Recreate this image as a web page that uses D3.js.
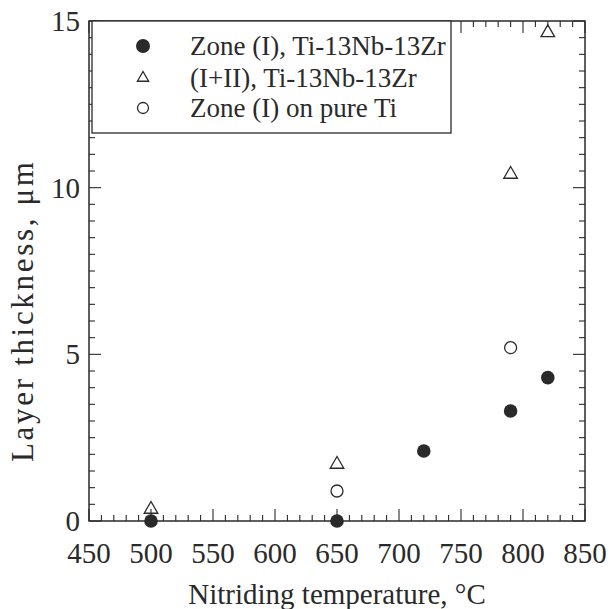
<!DOCTYPE html>
<html>
<head>
<meta charset="utf-8">
<script src="https://cdn.jsdelivr.net/npm/d3@7"></script>
<style>
  body { margin: 0; background: #fff; }
</style>
</head>
<body>
<svg id="chart" width="610" height="609"></svg>
<script>
// Zone (I), Ti-13Nb-13Zr  (filled circles)
const zoneTemps = [500, 650, 720, 790, 820];
const zoneVals = [0, 0, 2.1, 3.3, 4.3];
// (I+II), Ti-13Nb-13Zr  (open triangles)
const bothTemps = [500, 650, 790, 820];
const bothVals = [0.35, 1.7, 10.4, 14.65];
// Zone (I) on pure Ti  (open circles)
const tiTemps = [650, 790];
const tiVals = [0.9, 5.2];

const xTicks = [450, 500, 550, 600, 650, 700, 750, 800, 850];
const yTicks = [0, 5, 10, 15];
const legendLabels = ["Zone (I), Ti-13Nb-13Zr", "(I+II), Ti-13Nb-13Zr", "Zone (I) on pure Ti"];

const ink = "#2a2a2a";
const serif = "'Liberation Serif', 'Times New Roman', 'DejaVu Serif', serif";
const chart = d3.select("#chart");
const margin = {left: 89, right: 25, top: 21, bottom: 88};
const W = 610, H = 609;

const x = d3.scaleLinear().domain([450, 850]).range([margin.left, W - margin.right]);
const y = d3.scaleLinear().domain([0, 15]).range([H - margin.bottom, margin.top]);

const xMinor = d3.range(450, 851, 10);
const yMinor = d3.range(0, 15.01, 0.5);

// inward ticks on all four sides
const tickG = chart.append("g").attr("stroke", ink).attr("stroke-width", 1.1);
const isMajorX = v => v % 50 === 0;
const isMajorY = v => v % 5 === 0;
xMinor.forEach(v => {
  const len = isMajorX(v) ? 12 : 6;
  tickG.append("line").attr("x1", x(v)).attr("x2", x(v))
    .attr("y1", y(0)).attr("y2", y(0) - len);
  tickG.append("line").attr("x1", x(v)).attr("x2", x(v))
    .attr("y1", y(15)).attr("y2", y(15) + len);
});
yMinor.forEach(v => {
  const len = isMajorY(v) ? 12 : 6;
  tickG.append("line").attr("x1", x(450)).attr("x2", x(450) + len)
    .attr("y1", y(v)).attr("y2", y(v));
  tickG.append("line").attr("x1", x(850)).attr("x2", x(850) - len)
    .attr("y1", y(v)).attr("y2", y(v));
});

// frame
chart.append("rect")
  .attr("x", x(450)).attr("y", y(15))
  .attr("width", x(850) - x(450)).attr("height", y(0) - y(15))
  .attr("fill", "none").attr("stroke", ink).attr("stroke-width", 1.5);

// tick labels
chart.append("g").selectAll("text").data(xTicks).enter().append("text")
  .attr("x", d => x(d)).attr("y", y(0) + 42)
  .attr("text-anchor", "middle")
  .attr("font-family", serif).attr("font-size", 29).attr("fill", ink)
  .text(d => d);
chart.append("g").selectAll("text").data(yTicks).enter().append("text")
  .attr("x", x(450) - 9).attr("y", d => y(d) + 10)
  .attr("text-anchor", "end")
  .attr("font-family", serif).attr("font-size", 29).attr("fill", ink)
  .text(d => d);

// axis titles
chart.append("text")
  .attr("x", (x(450) + x(850)) / 2).attr("y", 604)
  .attr("text-anchor", "middle")
  .attr("font-family", serif).attr("font-size", 29).attr("fill", ink)
  .text("Nitriding temperature, \u00B0C");
chart.append("text")
  .attr("transform", "translate(33,312) rotate(-90)")
  .attr("text-anchor", "middle")
  .attr("font-family", serif).attr("font-size", 31).attr("fill", ink)
  .attr("textLength", 300).attr("lengthAdjust", "spacing")
  .text("Layer thickness, \u03BCm");

// legend box (covers the top-left of the frame)
const legend = chart.append("g");
legend.append("rect")
  .attr("x", 92).attr("y", y(15)).attr("width", 359).attr("height", 112)
  .attr("fill", "#fff").attr("stroke", ink).attr("stroke-width", 1.3);

const tri = d3.symbol().type(d3.symbolTriangle).size(80);
const triLeg = d3.symbol().type(d3.symbolTriangle).size(55);

const legRows = [46, 78, 108];
legend.append("circle").attr("cx", 143).attr("cy", legRows[0]).attr("r", 7).attr("fill", ink);
legend.append("path").attr("d", triLeg).attr("transform", `translate(143,${legRows[1]})`)
  .attr("fill", "none").attr("stroke", ink).attr("stroke-width", 1.3);
legend.append("circle").attr("cx", 143).attr("cy", legRows[2]).attr("r", 5.5)
  .attr("fill", "none").attr("stroke", ink).attr("stroke-width", 1.3);
legend.selectAll("text.leg").data(legendLabels).enter().append("text")
  .attr("class", "leg")
  .attr("x", 190).attr("y", (d, i) => legRows[i] + 9)
  .attr("font-family", serif).attr("font-size", 27).attr("fill", ink)
  .text(d => d);

// data
const pts = chart.append("g");
pts.selectAll("circle.zone").data(zoneTemps).enter().append("circle")
  .attr("class", "zone")
  .attr("cx", d => x(d)).attr("cy", (d, i) => y(zoneVals[i]))
  .attr("r", 6.8).attr("fill", ink);
pts.selectAll("path.both").data(bothTemps).enter().append("path")
  .attr("class", "both")
  .attr("d", tri)
  .attr("transform", (d, i) => `translate(${x(d)},${y(bothVals[i])})`)
  .attr("fill", "none").attr("stroke", ink).attr("stroke-width", 1.3);
pts.selectAll("circle.ti").data(tiTemps).enter().append("circle")
  .attr("class", "ti")
  .attr("cx", d => x(d)).attr("cy", (d, i) => y(tiVals[i]))
  .attr("r", 6).attr("fill", "none").attr("stroke", ink).attr("stroke-width", 1.3);
</script>
</body>
</html>
